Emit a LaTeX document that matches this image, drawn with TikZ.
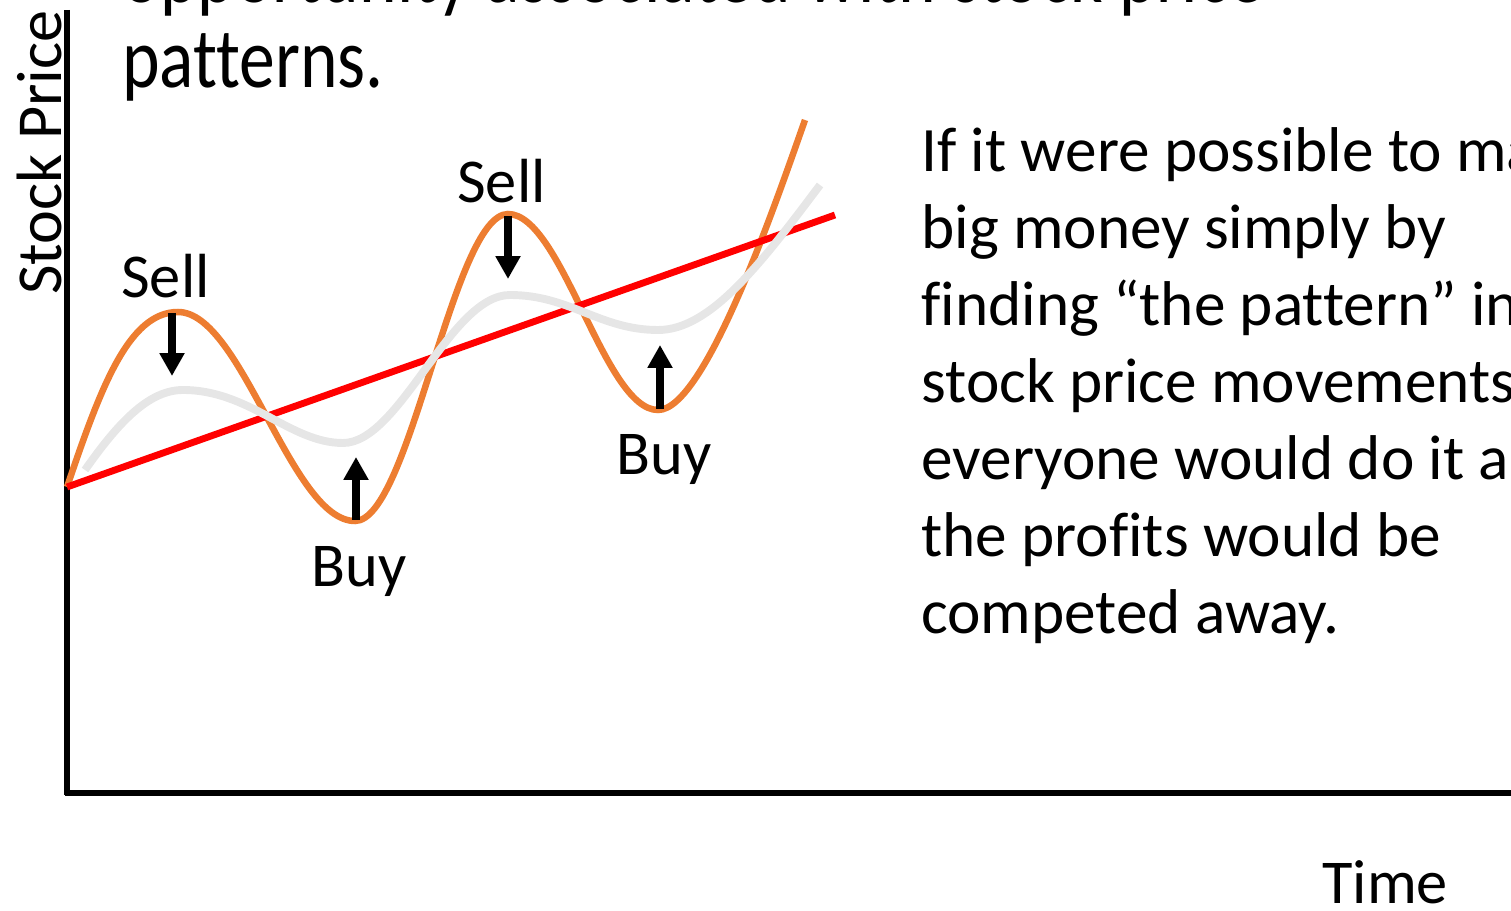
\documentclass[tikz,border=0pt]{standalone}
\usepackage{fontspec}
\setmainfont{Carlito}[Ligatures=NoCommon]
\usetikzlibrary{arrows.meta}
\definecolor{trendorange}{RGB}{237, 125, 49}
\definecolor{smoothgray}{RGB}{230, 230, 230}

\begin{document}
\begin{tikzpicture}[
                x=0.02cm, y=-0.02cm,
                axisline/.style={line width=3.3pt, black},
                pricecurve/.style={line width=3.7pt, trendorange},
                avgcurve/.style={line width=4.5pt, smoothgray},
                trendline/.style={line width=3.9pt, red},
                lbl/.style={font=\fontsize{35.5pt}{42pt}\selectfont,
                    inner sep=0pt, anchor=base west},
                bodytxt/.style={font=\fontsize{36pt}{43pt}\selectfont,
                    inner sep=0pt, anchor=base west},
                titletxt/.style={font=\fontsize{48.5pt}{56pt}\selectfont,
                    inner sep=0pt, anchor=base west, xscale=0.84},
                arr/.style={-{Triangle[length=13pt, width=13.5pt]},
                    line width=4pt, black}
            ]

                \useasboundingbox (0, 0) rectangle (1511, 911);

                % axes
                \coordinate (ytop) at (67, 10);
                \coordinate (orig) at (67, 795);
                \coordinate (xend) at (1520, 793);
                \draw[axisline] (ytop) -- (orig);
                \draw[axisline] (65, 793) -- (xend);

                \node[lbl, font=\fontsize{36.5pt}{42pt}\selectfont, rotate=90]
                    (ylbl) at (61, 295) {Stock Price};
                \node[lbl] (xlbl) at (1322, 903) {Time};

                % title, partly cut off
                \node[titletxt] (ttl1) at (122, 3) {opportunity associated with stock price};
                \node[titletxt] (ttl2) at (122, 88) {patterns.};

                % curves
                \coordinate (start) at (67, 487);
                \coordinate (pk1) at (178, 312);
                \coordinate (tr1) at (355, 521);
                \coordinate (pk2) at (508, 214);
                \coordinate (tr2) at (658, 410);
                \coordinate (fin) at (805, 120);
                \coordinate (trendend) at (835, 215);

                \draw[pricecurve] (start) .. controls (100, 390) and (128, 312) .. (pk1)
                    .. controls (242, 312) and (291, 521) .. (tr1)
                    .. controls (410, 521) and (453, 214) .. (pk2)
                    .. controls (562, 214) and (604, 410) .. (tr2)
                    .. controls (705, 410) and (775, 205) .. (fin);

                \draw[trendline] (start) -- (trendend);

                \coordinate (g0) at (85, 470);
                \coordinate (g1) at (183, 390);
                \coordinate (g2) at (343, 443);
                \coordinate (g3) at (510, 295);
                \coordinate (g4) at (658, 330);
                \coordinate (g5) at (820, 185);

                \draw[avgcurve] (g0) .. controls (120, 420) and (150, 390) .. (g1)
                    .. controls (250, 390) and (290, 443) .. (g2)
                    .. controls (400, 443) and (450, 295) .. (g3)
                    .. controls (570, 295) and (600, 330) .. (g4)
                    .. controls (710, 330) and (760, 265) .. (g5);

                % sell / buy markers
                \coordinate (s1a) at (172, 313);
                \coordinate (s1b) at (172, 376);
                \coordinate (s2a) at (508, 216);
                \coordinate (s2b) at (508, 279);
                \coordinate (b1a) at (356, 520);
                \coordinate (b1b) at (356, 457);
                \coordinate (b2a) at (660, 409);
                \coordinate (b2b) at (660, 345);

                \draw[arr] (s1a) -- (s1b);
                \draw[arr] (s2a) -- (s2b);
                \draw[arr] (b1a) -- (b1b);
                \draw[arr] (b2a) -- (b2b);

                \node[lbl] (sell1) at (121, 298) {Sell};
                \node[lbl] (sell2) at (457, 203) {Sell};
                \node[lbl] (buy1) at (311, 587) {Buy};
                \node[lbl] (buy2) at (616, 475) {Buy};

                % explanation
                \foreach \ln [count=\i] in {If it were possible to make,
                        big money simply by,
                        finding “the pattern” in,
                        {stock price movements,},
                        everyone would do it and,
                        the profits would be,
                        competed away.}
                    \node[bodytxt] (txt\i) at (921, {172 + 77*(\i-1)}) {\ln};

            \end{tikzpicture}
\end{document}
